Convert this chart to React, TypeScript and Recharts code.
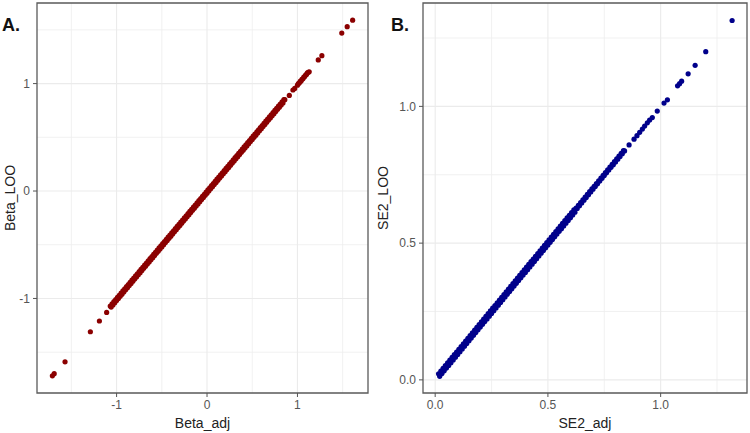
import React from "react";
import {
  ScatterChart,
  Scatter,
  XAxis,
  YAxis,
  CartesianGrid,
  ReferenceArea,
} from "recharts";

// Panel A: adjusted effect vs leave-one-out effect
const betaAdj = [
  -1.71, -1.69, -1.57, -1.29, -1.19, -1.11,
  -1.07, -1.06, -1.05, -1.04, -1.03, -1.02, -1.01, -1.0, -0.99, -0.98,
  -0.97, -0.96, -0.95, -0.94, -0.93, -0.92, -0.91, -0.9, -0.89, -0.88,
  -0.87, -0.86, -0.85, -0.84, -0.83, -0.82, -0.81, -0.8, -0.79, -0.78,
  -0.77, -0.76, -0.75, -0.74, -0.73, -0.72, -0.71, -0.7, -0.69, -0.68,
  -0.67, -0.66, -0.65, -0.64, -0.63, -0.62, -0.61, -0.6, -0.59, -0.58,
  -0.57, -0.56, -0.55, -0.54, -0.53, -0.52, -0.51, -0.5, -0.49, -0.48,
  -0.47, -0.46, -0.45, -0.44, -0.43, -0.42, -0.41, -0.4, -0.39, -0.38,
  -0.37, -0.36, -0.35, -0.34, -0.33, -0.32, -0.31, -0.3, -0.29, -0.28,
  -0.27, -0.26, -0.25, -0.24, -0.23, -0.22, -0.21, -0.2, -0.19, -0.18,
  -0.17, -0.16, -0.15, -0.14, -0.13, -0.12, -0.11, -0.1, -0.09, -0.08,
  -0.07, -0.06, -0.05, -0.04, -0.03, -0.02, -0.01, 0.0, 0.01, 0.02,
  0.03, 0.04, 0.05, 0.06, 0.07, 0.08, 0.09, 0.1, 0.11, 0.12,
  0.13, 0.14, 0.15, 0.16, 0.17, 0.18, 0.19, 0.2, 0.21, 0.22,
  0.23, 0.24, 0.25, 0.26, 0.27, 0.28, 0.29, 0.3, 0.31, 0.32,
  0.33, 0.34, 0.35, 0.36, 0.37, 0.38, 0.39, 0.4, 0.41, 0.42,
  0.43, 0.44, 0.45, 0.46, 0.47, 0.48, 0.49, 0.5, 0.51, 0.52,
  0.53, 0.54, 0.55, 0.56, 0.57, 0.58, 0.59, 0.6, 0.61, 0.62,
  0.63, 0.64, 0.65, 0.66, 0.67, 0.68, 0.69, 0.7, 0.71, 0.72,
  0.73, 0.74, 0.75, 0.76, 0.77, 0.78, 0.79, 0.8, 0.81, 0.82,
  0.83, 0.84, 0.85, 0.86,
  0.91, 0.95, 0.97,
  1.0, 1.01, 1.02, 1.03, 1.04, 1.05, 1.06, 1.07, 1.08, 1.09, 1.1, 1.11, 1.12, 1.13,
  1.23, 1.27, 1.49, 1.55, 1.61,
];
const betaLoo = [
  -1.72, -1.7, -1.59, -1.31, -1.21, -1.13,
  -1.07, -1.08, -1.05, -1.06, -1.03, -1.04, -1.01, -1.02, -0.99, -1.0,
  -0.97, -0.98, -0.95, -0.96, -0.93, -0.94, -0.91, -0.92, -0.89, -0.9,
  -0.87, -0.88, -0.85, -0.86, -0.83, -0.84, -0.81, -0.82, -0.79, -0.8,
  -0.77, -0.78, -0.75, -0.76, -0.73, -0.74, -0.71, -0.72, -0.69, -0.7,
  -0.67, -0.68, -0.65, -0.66, -0.63, -0.64, -0.61, -0.62, -0.59, -0.6,
  -0.57, -0.58, -0.55, -0.56, -0.53, -0.54, -0.51, -0.52, -0.49, -0.5,
  -0.47, -0.48, -0.45, -0.46, -0.43, -0.44, -0.41, -0.42, -0.39, -0.4,
  -0.37, -0.38, -0.35, -0.36, -0.33, -0.34, -0.31, -0.32, -0.29, -0.3,
  -0.27, -0.28, -0.25, -0.26, -0.23, -0.24, -0.21, -0.22, -0.19, -0.2,
  -0.17, -0.18, -0.15, -0.16, -0.13, -0.14, -0.11, -0.12, -0.09, -0.1,
  -0.07, -0.08, -0.05, -0.06, -0.03, -0.04, -0.01, -0.02, 0.01, 0.0,
  0.03, 0.02, 0.05, 0.04, 0.07, 0.06, 0.09, 0.08, 0.11, 0.1,
  0.13, 0.12, 0.15, 0.14, 0.17, 0.16, 0.19, 0.18, 0.21, 0.2,
  0.23, 0.22, 0.25, 0.24, 0.27, 0.26, 0.29, 0.28, 0.31, 0.3,
  0.33, 0.32, 0.35, 0.34, 0.37, 0.36, 0.39, 0.38, 0.41, 0.4,
  0.43, 0.42, 0.45, 0.44, 0.47, 0.46, 0.49, 0.48, 0.51, 0.5,
  0.53, 0.52, 0.55, 0.54, 0.57, 0.56, 0.59, 0.58, 0.61, 0.6,
  0.63, 0.62, 0.65, 0.64, 0.67, 0.66, 0.69, 0.68, 0.71, 0.7,
  0.73, 0.72, 0.75, 0.74, 0.77, 0.76, 0.79, 0.78, 0.81, 0.8,
  0.83, 0.82, 0.85, 0.85,
  0.89, 0.94, 0.955,
  0.985, 1.0, 1.005, 1.02, 1.025, 1.04, 1.045, 1.06, 1.065, 1.08, 1.085, 1.1, 1.105, 1.11,
  1.22, 1.26, 1.47, 1.53, 1.59,
];

// Panel B: adjusted squared SE vs leave-one-out squared SE
const seAdj = [
  0.015, 0.02, 0.025, 0.03, 0.035, 0.04, 0.045, 0.05, 0.055, 0.06,
  0.065, 0.07, 0.075, 0.08, 0.085, 0.09, 0.095, 0.1, 0.105, 0.11,
  0.115, 0.12, 0.125, 0.13, 0.135, 0.14, 0.145, 0.15, 0.155, 0.16,
  0.165, 0.17, 0.175, 0.18, 0.185, 0.19, 0.195, 0.2, 0.205, 0.21,
  0.215, 0.22, 0.225, 0.23, 0.235, 0.24, 0.245, 0.25, 0.255, 0.26,
  0.265, 0.27, 0.275, 0.28, 0.285, 0.29, 0.295, 0.3, 0.305, 0.31,
  0.315, 0.32, 0.325, 0.33, 0.335, 0.34, 0.345, 0.35, 0.355, 0.36,
  0.365, 0.37, 0.375, 0.38, 0.385, 0.39, 0.395, 0.4, 0.405, 0.41,
  0.415, 0.42, 0.425, 0.43, 0.435, 0.44, 0.445, 0.45, 0.455, 0.46,
  0.465, 0.47, 0.475, 0.48, 0.485, 0.49, 0.495, 0.5, 0.505, 0.51,
  0.515, 0.52, 0.525, 0.53, 0.535, 0.54, 0.545, 0.55, 0.555, 0.56,
  0.565, 0.57, 0.575, 0.58, 0.585, 0.59, 0.595, 0.6, 0.605, 0.61,
  0.615, 0.62, 0.625, 0.63, 0.635, 0.64, 0.645, 0.65, 0.655, 0.66,
  0.665, 0.67, 0.675, 0.68, 0.685, 0.69, 0.695, 0.7, 0.705, 0.71,
  0.715, 0.72, 0.725, 0.73, 0.735, 0.74, 0.745, 0.75, 0.755, 0.76,
  0.765, 0.77, 0.775, 0.78, 0.785, 0.79, 0.795, 0.8, 0.805, 0.81,
  0.815, 0.82, 0.825, 0.83, 0.835, 0.84,
  0.86, 0.882, 0.895, 0.907, 0.919, 0.929, 0.941, 0.951, 0.963, 0.985,
  1.015, 1.03, 1.075, 1.084, 1.093, 1.122, 1.153, 1.2, 1.317,
];
const seLoo = [
  0.022, 0.013, 0.032, 0.023, 0.042, 0.033, 0.052, 0.043, 0.062, 0.053,
  0.072, 0.063, 0.082, 0.073, 0.092, 0.083, 0.102, 0.093, 0.112, 0.103,
  0.122, 0.113, 0.132, 0.123, 0.142, 0.133, 0.152, 0.143, 0.162, 0.153,
  0.172, 0.163, 0.182, 0.173, 0.192, 0.183, 0.202, 0.193, 0.212, 0.203,
  0.222, 0.213, 0.232, 0.223, 0.242, 0.233, 0.252, 0.243, 0.262, 0.253,
  0.272, 0.263, 0.282, 0.273, 0.292, 0.283, 0.302, 0.293, 0.312, 0.303,
  0.322, 0.313, 0.332, 0.323, 0.342, 0.333, 0.352, 0.343, 0.362, 0.353,
  0.372, 0.363, 0.382, 0.373, 0.392, 0.383, 0.402, 0.393, 0.412, 0.403,
  0.422, 0.413, 0.432, 0.423, 0.442, 0.433, 0.452, 0.443, 0.462, 0.453,
  0.472, 0.463, 0.482, 0.473, 0.492, 0.483, 0.502, 0.493, 0.512, 0.503,
  0.522, 0.513, 0.532, 0.523, 0.542, 0.533, 0.552, 0.543, 0.562, 0.553,
  0.572, 0.563, 0.582, 0.573, 0.592, 0.583, 0.602, 0.593, 0.612, 0.603,
  0.622, 0.613, 0.628, 0.627, 0.638, 0.637, 0.648, 0.647, 0.658, 0.657,
  0.668, 0.667, 0.678, 0.677, 0.688, 0.687, 0.698, 0.697, 0.708, 0.707,
  0.718, 0.717, 0.728, 0.727, 0.738, 0.737, 0.748, 0.747, 0.758, 0.757,
  0.768, 0.767, 0.778, 0.777, 0.788, 0.787, 0.798, 0.797, 0.808, 0.807,
  0.818, 0.817, 0.828, 0.827, 0.838, 0.837,
  0.859, 0.88, 0.893, 0.905, 0.917, 0.928, 0.94, 0.95, 0.959, 0.983,
  1.012, 1.024, 1.075, 1.083, 1.092, 1.119, 1.15, 1.2, 1.314,
];

const betaTicks = [-1, 0, 1];
const betaMinor = [-1.5, -0.5, 0.5, 1.5];
const seTicks = [0, 0.5, 1];
const seMinor = [0.25, 0.75, 1.25];

const betaData = betaAdj.map((x, i) => ({ x, y: betaLoo[i] }));
const seData = seAdj.map((x, i) => ({ x, y: seLoo[i] }));

const FONT = "'Liberation Sans', Arial, sans-serif";
const tickStyle = { fontSize: 12, fill: "#555", fontFamily: FONT };
const titleStyle = { fontSize: 14, fill: "#222", fontFamily: FONT, textAnchor: "middle" as const };

const dot = (color: string) => (props: any) =>
  <circle cx={props.cx} cy={props.cy} r={2.6} fill={color} />;

interface PanelProps {
  data: { x: number; y: number }[];
  xDomain: [number, number];
  yDomain: [number, number];
  ticks: number[];
  minor: number[];
  fmt: (v: number) => string;
  xTitle: string;
  yTitle: string;
  color: string;
  yAxisWidth: number;
  right: number;
  titleOffset: number;
}

function Panel(p: PanelProps) {
  return (
    <ScatterChart
      width={375}
      height={433}
      margin={{ top: 3, right: p.right, bottom: 0, left: 0 }}
    >
      <CartesianGrid
        stroke="#EDEDED"
        strokeWidth={0.8}
        verticalValues={p.minor}
        horizontalValues={p.minor}
      />
      <CartesianGrid
        stroke="#EBEBEB"
        strokeWidth={1.1}
        verticalValues={p.ticks}
        horizontalValues={p.ticks}
      />
      <XAxis
        type="number"
        dataKey="x"
        domain={p.xDomain}
        ticks={p.ticks}
        tickFormatter={p.fmt}
        allowDataOverflow
        height={40}
        axisLine={false}
        tickLine={{ stroke: "#555" }}
        tickSize={4}
        tickMargin={3}
        tick={tickStyle}
        label={{ value: p.xTitle, position: "insideBottom", offset: 5, style: titleStyle }}
      />
      <YAxis
        type="number"
        dataKey="y"
        domain={p.yDomain}
        ticks={p.ticks}
        tickFormatter={p.fmt}
        allowDataOverflow
        width={p.yAxisWidth}
        axisLine={false}
        tickLine={{ stroke: "#555" }}
        tickSize={4}
        tickMargin={3}
        tick={tickStyle}
        label={{
          value: p.yTitle,
          angle: -90,
          position: "insideLeft",
          offset: p.titleOffset,
          style: titleStyle,
        }}
      />
      <Scatter
        data={p.data}
        fill={p.color}
        shape={dot(p.color)}
        isAnimationActive={false}
      />
      {/* panel border */}
      <ReferenceArea
        x1={p.xDomain[0]}
        x2={p.xDomain[1]}
        y1={p.yDomain[0]}
        y2={p.yDomain[1]}
        fill="none"
        stroke="#5a5a5a"
        strokeWidth={1.3}
        ifOverflow="visible"
      />
    </ScatterChart>
  );
}

const tagStyle: React.CSSProperties = {
  position: "absolute",
  top: 16,
  fontFamily: FONT,
  fontWeight: "bold",
  fontSize: 18,
  lineHeight: "18px",
  color: "#111",
};

export default function App() {
  return (
    <div
      style={{
        position: "absolute",
        left: 0,
        top: 0,
        width: 750,
        height: 433,
        background: "#fff",
        display: "flex",
      }}
    >
      <Panel
        data={betaData}
        xDomain={[-1.88, 1.78]}
        yDomain={[-1.88, 1.75]}
        ticks={betaTicks}
        minor={betaMinor}
        fmt={(v) => String(v)}
        xTitle="Beta_adj"
        yTitle="Beta_LOO"
        color="#8B0000"
        yAxisWidth={37}
        right={7}
        titleOffset={10}
      />
      <Panel
        data={seData}
        xDomain={[-0.054, 1.383]}
        yDomain={[-0.048, 1.378]}
        ticks={seTicks}
        minor={seMinor}
        fmt={(v) => v.toFixed(1)}
        xTitle="SE2_adj"
        yTitle="SE2_LOO"
        color="#00008B"
        yAxisWidth={48}
        right={3}
        titleOffset={8}
      />
      <div style={{ ...tagStyle, left: 2 }}>A.</div>
      <div style={{ ...tagStyle, left: 391 }}>B.</div>
    </div>
  );
}
